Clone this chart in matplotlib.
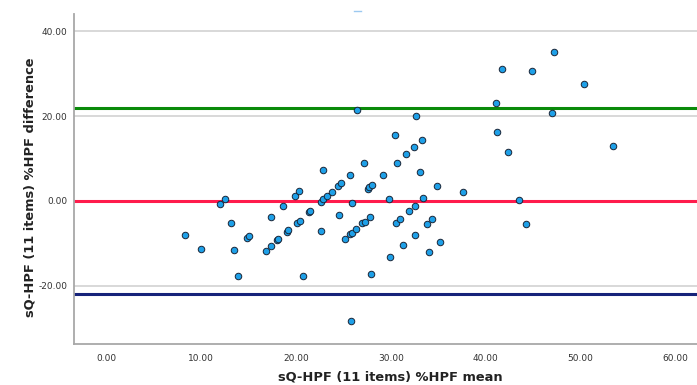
import matplotlib
matplotlib.use('Agg')
import matplotlib.pyplot as plt
from matplotlib.lines import Line2D

# Bland-Altman data: mean (x) and difference (y)
mean_vals = [8.31, 10.03, 11.95, 12.55, 13.19, 13.46, 13.87, 14.80, 15.06, 16.80,
             17.36, 17.38, 18.02, 18.12, 18.67, 19.02, 19.21, 19.86, 20.32, 20.13,
             20.39, 20.76, 21.36, 21.50, 22.63, 22.66, 22.89, 23.32, 23.79, 22.85,
             24.45, 24.77, 24.53, 25.16, 25.72, 25.93, 26.33, 25.66, 25.93, 25.82,
             26.49, 27.01, 27.27, 27.19, 27.56, 27.70, 27.99, 27.83, 27.91, 29.20,
             29.81, 29.97, 30.50, 30.71, 30.52, 31.02, 31.34, 31.66, 31.92, 32.52,
             32.49, 32.57, 32.71, 33.10, 33.34, 33.44, 33.81, 34.40, 34.02, 34.86,
             35.21, 37.58, 41.12, 41.22, 41.75, 42.39, 43.54, 44.31, 44.92, 47.03,
             47.20, 50.37, 53.49]
diff_vals = [-8.00, -11.36, -0.71, 0.52, -5.06, -11.46, -17.60, -8.82, -8.31, -11.72,
             -3.69, -10.59, -9.27, -9.01, -1.11, -7.22, -6.89, 1.29, 2.28, -5.06,
             -4.66, -17.65, -2.59, -2.35, -0.28, -6.99, 0.42, 1.18, 2.07, 7.22,
             3.58, 4.16, -3.25, -8.94, -7.84, -7.46, -6.59, 6.12, -0.42, -28.31,
             21.41, -5.22, -4.87, 9.01, 2.87, 3.18, 3.65, -3.65, -17.25, 6.12,
             0.47, -13.18, 15.60, 9.01, -5.22, -4.24, -10.40, 10.99, -2.31, -1.13,
             12.59, -8.00, 20.07, 6.89, 14.35, 0.71, -5.48, -4.31, -12.05, 3.53,
             -9.65, 2.05, 22.99, 16.24, 31.06, 11.60, 0.24, -5.34, 30.52, 20.78,
             34.99, 27.53, 12.94]

mean_diff = 0.0
upper_loa = 21.9
lower_loa = -21.9

x_ticks = [0, 10, 20, 30, 40, 50, 60]
y_ticks = [-20, 0, 20, 40]

fig = plt.figure(figsize=(6.97, 3.85), dpi=100)
ax = fig.add_axes([0.1062, 0.1065, 0.8938, 0.8571])

# gridlines (horizontal only)
for yt in y_ticks:
    ax.axhline(yt, color='#d6d6d6', lw=1.3, zorder=1)

ax.axhline(upper_loa, color='#0a8a0a', lw=2.2, zorder=2)
ax.axhline(mean_diff, color='#ff1c4c', lw=2.2, zorder=2)
ax.axhline(lower_loa, color='#16237a', lw=2.2, zorder=2)

ax.scatter(mean_vals, diff_vals, s=22, c='#1ea0e8', edgecolors='#1a2638',
           linewidths=0.7, zorder=3)

ax.set_xlim(-3.4, 62.3)
ax.set_ylim(-33.65, 44.0)
ax.set_xticks(x_ticks)
ax.set_yticks(y_ticks)
ax.set_xticklabels(['%.2f' % v for v in x_ticks])
ax.set_yticklabels(['%.2f' % v for v in y_ticks])
ax.tick_params(length=0, labelsize=6.5, colors='#333333')
ax.tick_params(axis='x', pad=7)
ax.tick_params(axis='y', pad=5)

for side in ['top', 'right']:
    ax.spines[side].set_visible(False)
for side in ['left', 'bottom']:
    ax.spines[side].set_color('#a8a8a8')
    ax.spines[side].set_linewidth(1.3)

fig.text(390 / 697, 1 - 381 / 385, 'sQ-HPF (11 items) %HPF mean', fontsize=9.4,
         fontweight='bold', color='#222222', ha='center', va='baseline')
fig.text(30 / 697, 1 - 187.5 / 385, 'sQ-HPF (11 items) %HPF difference', fontsize=9.4,
         fontweight='bold', color='#222222', ha='center', va='center', rotation=90)

# small stray mark at the top of the original
fig.add_artist(Line2D([354 / 697, 361 / 697], [1 - 11 / 385] * 2,
                      color='#9cc9f0', lw=1.0))

fig.savefig('out.png', dpi=100)
